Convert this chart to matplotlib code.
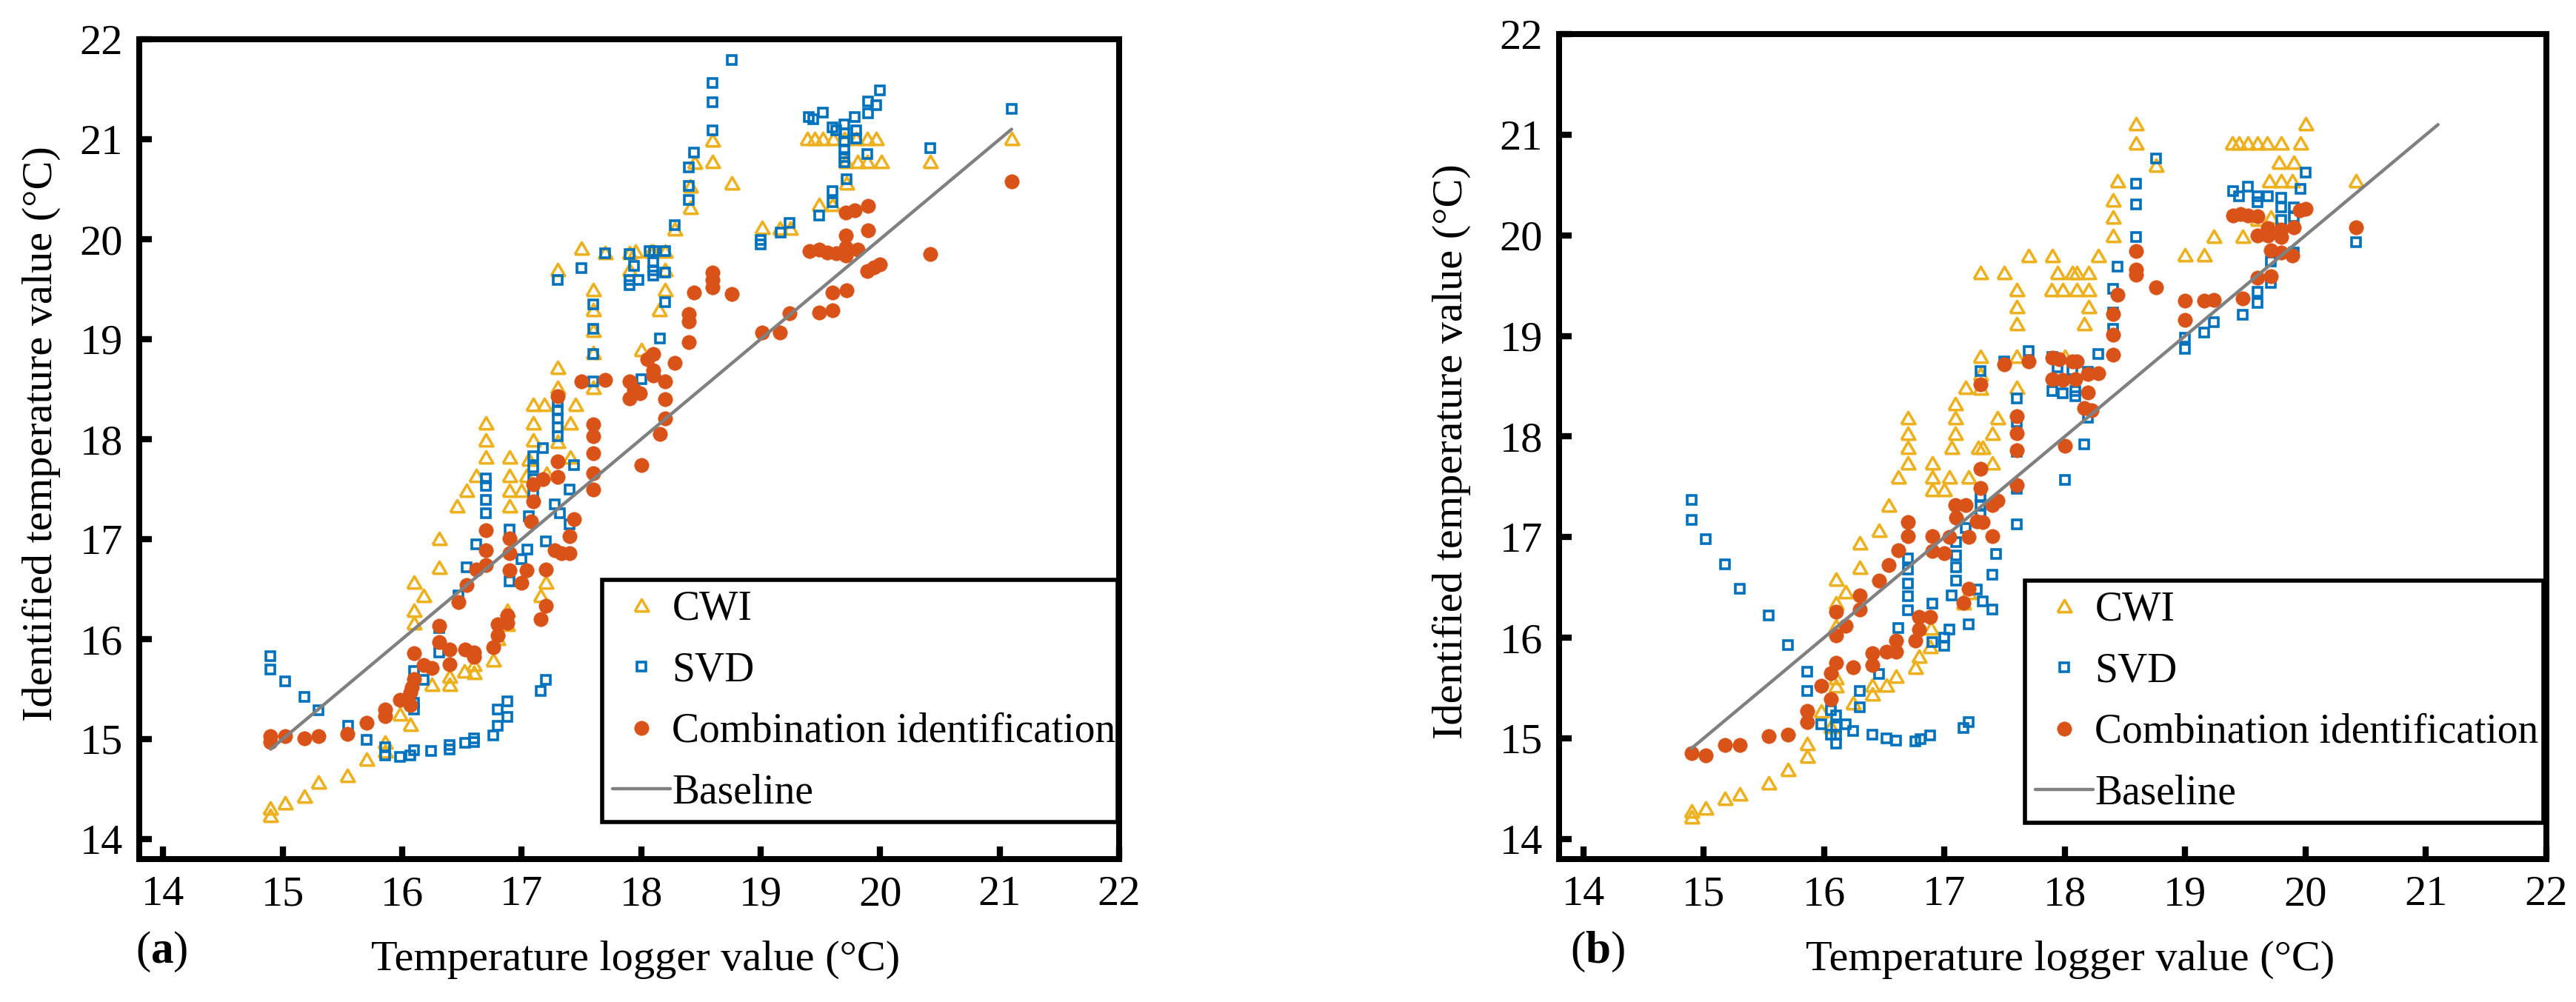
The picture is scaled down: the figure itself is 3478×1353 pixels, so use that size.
import matplotlib
matplotlib.use("Agg")
import matplotlib.pyplot as plt

plt.rcParams['font.family'] = ['Liberation Serif', 'DejaVu Serif']
plt.rcParams['mathtext.fontset'] = 'custom'
plt.rcParams['mathtext.rm'] = 'Liberation Serif'
plt.rcParams['mathtext.bf'] = 'Liberation Serif:bold'

# ---- panel (a) ----
cwi_a = [(16.31,17.01),(16.31,16.72),(16.10,16.57),(16.18,16.44),(16.10,16.29),(16.10,16.16),(17.20,16.57),
         (17.16,16.44),(16.88,16.29),(16.88,16.15),(16.80,16.01),(16.76,15.79),(16.60,15.75),(16.52,15.68),
         (16.60,15.67),(16.40,15.63),(16.40,15.55),(16.25,15.55),(16.07,15.15),(15.98,15.25),(15.86,14.97),
         (15.86,14.88),(15.70,14.80),(15.54,14.64),(15.30,14.57),(15.18,14.43),(15.02,14.36),(14.90,14.31),
         (14.90,14.24),
         (17.50,19.91),(17.30,19.70),(17.70,19.87),(17.90,19.87),(17.95,19.88),(18.08,19.88),(18.10,19.88),
         (18.20,19.88),(17.90,19.70),(18.20,19.70),(18.20,19.50),(18.15,19.30),(18.00,18.90),(17.60,19.50),
         (17.60,19.30),(17.60,19.09),(17.60,18.87),(17.60,18.52),(17.30,18.72),(17.30,18.52),(17.10,18.35),
         (17.19,18.35),(17.45,18.35),(17.10,18.16),(17.41,18.16),(17.10,17.99),(17.30,17.98),(16.70,18.16),
         (16.70,17.99),(16.70,17.82),(16.90,17.82),(17.06,17.80),(17.41,17.82),(16.62,17.64),(16.90,17.64),
         (17.04,17.64),(17.21,17.66),(16.54,17.49),(16.90,17.49),(17.00,17.49),(16.46,17.33),(16.90,17.33),
         (18.28,20.10),
         (18.60,20.99),(18.45,20.77),(18.60,20.78),(18.76,20.56),(18.41,20.53),(18.41,20.32),(19.01,20.12),
         (19.16,20.11),(19.25,20.11),(19.39,21.01),(19.45,21.01),(19.52,21.01),(19.61,21.01),(19.70,21.01),
         (19.80,21.01),(19.89,21.01),(19.97,21.01),(19.71,20.78),(19.81,20.78),(19.89,20.78),(20.01,20.78),
         (19.49,20.35),(19.60,20.35),(19.72,20.56),(20.42,20.78),(21.10,21.01)]

svd_a = [(14.90,15.83),(14.90,15.70),(15.02,15.58),(15.18,15.42),(15.30,15.29),(15.55,15.13),(15.70,14.99),
         (15.86,14.92),(15.86,14.84),(15.98,14.82),(16.07,14.84),(16.10,14.89),(16.24,14.88),(16.40,14.94),
         (16.40,14.90),(16.53,14.96),(16.60,15.01),(16.60,14.97),(16.76,15.04),(16.80,15.13),(16.80,15.30),
         (16.88,15.38),(16.88,15.22),(17.16,15.48),(17.20,15.59),(16.10,15.68),(16.18,15.59),(16.10,15.30),
         (16.10,15.36),(16.31,15.87),(16.31,16.11),(16.47,16.44),(16.54,16.72),(16.62,16.95),(16.90,17.10),
         (16.90,16.58),(17.20,16.98),(17.40,17.15),(17.00,16.80),(17.05,16.90),
         (17.30,19.59),(17.50,19.71),(17.70,19.86),(17.90,19.85),(17.94,19.73),(17.90,19.59),(17.90,19.54),
         (17.98,19.59),(18.07,19.88),(18.11,19.88),(18.20,19.88),(18.10,19.77),(18.10,19.69),(18.10,19.64),
         (18.20,19.67),(18.20,19.37),(18.16,19.01),(18.00,18.60),(18.28,20.14),(17.60,19.35),(17.60,19.10),
         (17.60,18.85),(17.60,18.58),(17.30,18.37),(17.30,18.29),(17.30,18.21),(17.30,18.12),(17.30,18.03),
         (17.18,17.91),(17.10,17.83),(17.10,17.72),(17.10,17.60),(17.10,17.46),(17.44,17.74),(17.40,17.50),
         (17.28,17.35),(17.32,17.26),(16.70,17.61),(16.70,17.53),(16.70,17.39),(16.70,17.26),(17.06,17.23),
         (18.76,21.79),(18.60,21.56),(18.60,21.37),(18.60,21.09),(18.44,20.87),(18.40,20.72),(18.40,20.53),
         (18.40,20.39),(19.00,19.99),(19.00,19.95),(19.17,20.07),(19.24,20.16),(19.40,21.22),(19.44,21.20),
         (19.52,21.27),(19.60,21.12),(19.70,21.15),(19.79,21.22),(19.90,21.38),(19.97,21.34),(19.90,21.26),
         (20.00,21.49),(19.70,21.06),(19.70,20.98),(19.70,20.90),(19.70,20.82),(19.70,20.77),(19.80,21.09),
         (19.80,21.01),(19.63,21.09),(19.89,20.85),(19.72,20.60),(19.60,20.48),(19.60,20.37),(19.49,20.24),
         (20.42,20.91),(21.10,21.30)]

comb_a = [(14.90,15.03),(14.90,14.97),(15.02,15.03),(15.18,15.01),(15.30,15.03),(15.54,15.05),(15.70,15.16),
          (15.86,15.30),(15.86,15.23),(15.98,15.39),(16.07,15.34),(16.07,15.47),(16.08,15.52),(16.10,15.60),
          (16.10,15.86),(16.18,15.74),(16.25,15.71),(16.31,16.13),(16.31,15.97),(16.40,15.90),(16.40,15.75),
          (16.53,15.90),(16.60,15.87),(16.60,15.82),(16.76,15.92),(16.80,16.04),(16.80,16.15),(16.88,16.16),
          (16.88,16.24),(16.47,16.37),(16.54,16.54),(16.62,16.70),(16.70,16.74),(16.70,16.89),(16.70,17.09),
          (16.90,16.69),(16.90,17.01),(16.90,16.86),(17.00,16.56),(17.04,16.69),(17.20,16.70),(17.20,16.33),
          (17.16,16.20),(17.08,17.18),(17.28,16.89),(17.33,16.86),(17.40,16.86),(17.40,17.03),(17.44,17.20),
          (17.50,18.58),(17.70,18.59),(17.90,18.58),(17.94,18.50),(17.99,18.46),(17.90,18.41),(18.10,18.85),
          (18.05,18.80),(18.10,18.69),(18.10,18.64),(18.20,18.58),(18.20,18.40),(18.20,18.21),(18.16,18.05),
          (18.00,17.74),(18.28,18.76),(17.60,18.15),(17.60,18.03),(17.60,17.86),(17.60,17.66),(17.60,17.50),
          (17.30,18.43),(17.30,17.78),(17.30,17.62),(17.18,17.60),(17.10,17.55),(17.10,17.38),
          (18.60,19.67),(18.60,19.59),(18.60,19.52),(18.44,19.47),(18.76,19.45),(18.40,19.25),(18.40,19.18),
          (18.40,18.97),(19.01,19.07),(19.16,19.07),(19.24,19.26),(19.49,19.27),(19.60,19.29),(19.60,19.47),
          (19.72,19.49),(19.89,19.68),(19.95,19.72),(20.00,19.75),(19.41,19.88),(19.49,19.90),(19.56,19.87),
          (19.63,19.86),(19.71,19.84),(19.71,19.92),(19.71,20.04),(19.81,19.90),(19.71,20.27),(19.79,20.29),
          (19.90,20.33),(19.90,20.09),(20.42,19.85),(21.10,20.58)]

# ---- panel (b) ----
cwi_b = [(14.90,14.28),(14.90,14.22),(15.02,14.31),(15.18,14.40),(15.30,14.45),(15.54,14.56),(15.70,14.69),
         (15.86,14.82),(15.86,14.95),(15.98,15.27),(16.06,15.12),(16.10,15.60),(16.10,15.52),(16.24,15.35),
         (16.40,15.44),(16.40,15.53),(16.52,15.53),(16.60,15.62),(16.76,15.71),(16.79,15.82),(16.88,15.91),
         (16.89,16.10),(16.10,16.12),(16.10,16.35),(16.18,16.46),(16.10,16.58),(16.30,16.70),(16.30,16.94),
         (16.46,17.07),(17.16,16.35),(17.20,16.45),
         (17.70,19.80),(17.90,19.80),(18.28,19.80),(17.30,19.63),(17.50,19.63),(17.94,19.63),(18.06,19.63),
         (18.10,19.63),(18.20,19.63),(17.60,19.46),(17.60,19.29),(17.60,19.12),(17.89,19.46),(17.98,19.46),
         (18.10,19.46),(18.20,19.46),(18.20,19.29),(18.16,19.12),(17.30,18.80),(17.60,18.80),(18.00,18.80),
         (17.30,18.62),(17.18,18.49),(17.30,18.48),(17.60,18.49),(17.09,18.33),(17.09,18.19),(17.09,18.03),
         (17.06,17.89),(17.44,18.19),(17.40,18.03),(17.28,17.89),(17.32,17.89),(17.40,17.74),(16.70,18.19),
         (16.70,18.03),(16.70,17.89),(16.70,17.74),(16.62,17.60),(16.90,17.74),(16.90,17.60),(17.04,17.60),
         (17.20,17.60),(16.90,17.47),(17.00,17.47),(16.54,17.32),
         (18.59,21.11),(18.59,20.92),(18.76,20.70),(18.44,20.54),(18.40,20.35),(18.40,20.18),(18.40,20.00),
         (19.00,19.81),(19.16,19.81),(19.24,19.99),(19.48,19.99),(19.39,20.92),(19.45,20.92),(19.52,20.92),
         (19.60,20.92),(19.68,20.92),(19.80,20.92),(19.96,20.92),(20.00,21.11),(19.78,20.73),(19.90,20.73),
         (19.70,20.54),(19.80,20.54),(19.89,20.54),(19.71,20.18),(19.60,20.16),(20.42,20.54)]

svd_b = [(14.90,17.37),(14.90,17.17),(15.02,16.98),(15.18,16.73),(15.30,16.49),(15.54,16.22),(15.70,15.93),
         (15.86,15.66),(15.86,15.47),(15.98,15.14),(16.06,15.28),(16.10,15.23),(16.10,15.12),(16.18,15.14),
         (16.06,15.04),(16.10,15.04),(16.10,14.95),(16.24,15.07),(16.40,15.04),(16.52,15.00),(16.60,14.98),
         (16.76,14.97),(16.80,14.99),(16.88,15.03),(17.16,15.10),(17.20,15.16),(16.30,15.47),(16.30,15.31),
         (16.46,15.64),(16.62,16.10),(16.70,16.27),(16.70,16.41),(16.70,16.54),(16.70,16.68),(16.70,16.79),
         (16.90,16.34),(16.90,15.96),(17.00,15.92),(17.00,16.00),(17.04,16.08),(17.10,16.57),(17.10,16.70),
         (17.10,16.82),(17.10,16.95),(17.06,16.42),(17.18,17.09),(17.27,16.48),(17.32,16.36),(17.40,16.28),
         (17.20,16.13),(17.40,16.63),(17.43,16.83),(17.60,17.13),
         (18.28,18.82),(17.70,18.85),(17.50,18.75),(17.30,18.65),(17.90,18.79),(17.94,18.69),(18.06,18.66),
         (18.19,18.64),(17.90,18.45),(17.98,18.43),(18.09,18.45),(18.09,18.40),(18.19,18.19),(18.16,17.92),
         (18.00,17.57),(17.60,18.38),(17.60,18.14),(17.60,17.85),(17.60,17.48),(17.30,17.40),(17.30,17.32),
         (17.30,17.22),
         (18.76,20.76),(18.59,20.51),(18.59,20.31),(18.59,19.98),(18.44,19.69),(18.40,19.47),(18.40,19.23),
         (18.40,19.07),(19.00,18.98),(19.00,18.87),(19.16,19.03),(19.24,19.14),(19.48,19.21),(19.60,19.44),
         (19.60,19.33),(19.71,19.53),(19.71,19.74),(19.40,20.44),(19.45,20.39),(19.52,20.48),(19.60,20.39),
         (19.60,20.33),(19.69,20.39),(19.80,20.37),(19.80,20.28),(19.90,20.28),(19.90,20.18),(19.80,20.15),
         (19.96,20.46),(20.00,20.62),(19.80,19.99),(19.90,19.83),(20.42,19.93)]

comb_b = [(14.90,14.85),(15.02,14.83),(15.18,14.93),(15.30,14.93),(15.54,15.02),(15.70,15.04),(15.86,15.27),
          (15.86,15.16),(15.98,15.52),(16.06,15.39),(16.06,15.65),(16.10,15.75),(16.24,15.71),(16.40,15.85),
          (16.40,15.73),(16.52,15.86),(16.60,15.86),(16.60,15.97),(16.76,15.97),(16.79,16.08),(16.79,16.21),
          (16.88,16.21),(16.10,16.02),(16.18,16.12),(16.10,16.26),(16.30,16.28),(16.30,16.42),(16.46,16.57),
          (16.54,16.72),(16.62,16.87),(16.70,17.01),(16.70,17.15),(16.90,17.01),(16.90,16.86),(17.00,16.84),
          (17.04,17.00),(17.10,17.19),(17.20,17.00),(17.20,16.49),(17.16,16.35),(17.40,17.01),(17.27,17.16),
          (17.32,17.15),
          (17.50,18.72),(17.70,18.75),(17.90,18.78),(17.95,18.77),(18.06,18.75),(18.10,18.75),(17.90,18.57),
          (17.98,18.56),(18.09,18.57),(18.19,18.62),(18.28,18.63),(18.19,18.44),(18.16,18.28),(18.22,18.26),
          (18.00,17.91),(17.30,18.52),(17.60,18.20),(17.60,18.03),(17.60,17.86),(17.60,17.52),(17.30,17.68),
          (17.30,17.49),(17.09,17.32),(17.18,17.32),(17.40,17.32),(17.44,17.36),
          (18.59,19.84),(18.59,19.66),(18.59,19.61),(18.76,19.48),(18.44,19.41),(18.40,19.22),(18.40,19.01),
          (18.40,18.81),(19.00,19.35),(19.00,19.16),(19.16,19.35),(19.24,19.36),(19.48,19.37),(19.60,19.58),
          (19.71,19.59),(19.40,20.20),(19.46,20.21),(19.52,20.20),(19.60,20.19),(19.60,20.00),(19.69,20.07),
          (19.69,20.00),(19.80,20.06),(19.80,19.98),(19.90,20.08),(19.71,19.85),(19.80,19.83),(19.89,19.80),
          (19.95,20.25),(20.00,20.26),(20.42,20.08)]

baseline_x = [14.9, 21.1]
baseline_y = [14.9, 21.1]
ticks = [14, 15, 16, 17, 18, 19, 20, 21, 22]
labels = ["CWI", "SVD", "Combination identification", "Baseline"]

C_CWI = "#EDB120"
C_SVD = "#0072BD"
C_COMB = "#D95319"
C_BASE = "#808080"
tri = [(-1, -0.866), (1, -0.866), (0, 0.866), (-1, -0.866)]

W, H = 3478, 1353
fig = plt.figure(figsize=(W / 200, H / 200), dpi=200)

def px_rect(l, t, r, b):
    return [l / W, 1 - b / H, (r - l) / W, (b - t) / H]

def draw_panel(rect, cwi, svd, comb, leg_box, tag, tag_xy, ylab_xy, xlab_xy):
    ax = fig.add_axes(px_rect(*rect))
    ax.plot([p[0] for p in cwi], [p[1] for p in cwi], linestyle='none', marker=tri, ms=6.8,
            mfc='none', mec=C_CWI, mew=1.3, label=labels[0])
    ax.plot([p[0] for p in svd], [p[1] for p in svd], linestyle='none', marker='s', ms=4.5,
            mfc='none', mec=C_SVD, mew=1.3, label=labels[1])
    ax.plot([p[0] for p in comb], [p[1] for p in comb], linestyle='none', marker='o', ms=7.0,
            mfc=C_COMB, mec=C_COMB, mew=0.2, label=labels[2])
    ax.plot(baseline_x, baseline_y, color=C_BASE, lw=1.6, solid_capstyle='round', label=labels[3])
    ax.set_xlim(13.8, 22)
    ax.set_ylim(13.8, 22)
    ax.set_xticks(ticks)
    ax.set_yticks(ticks)
    ax.tick_params(direction='in', length=6, width=3.0, labelsize=21, pad=8,
                   top=False, right=False)
    for s in ax.spines.values():
        s.set_linewidth(2.9)
    # legend box given in pixels (left, top, right, bottom)
    aw = rect[2] - rect[0]
    ah = rect[3] - rect[1]
    l0 = (leg_box[0] - rect[0]) / aw
    w0 = (leg_box[2] - leg_box[0]) / aw
    b0 = 1 - (leg_box[3] - rect[1]) / ah
    h0 = (leg_box[3] - leg_box[1]) / ah
    leg = ax.legend(loc='upper left', bbox_to_anchor=(l0, b0, w0, h0), mode='expand',
                    fontsize=20, frameon=True, fancybox=False, borderpad=0.25,
                    labelspacing=0.55, handlelength=1.4, handletextpad=0.05, borderaxespad=0)
    fr = leg.get_frame()
    fr.set_edgecolor('black')
    fr.set_linewidth(2.0)
    fr.set_alpha(1)
    fig.text(tag_xy[0] / W, 1 - tag_xy[1] / H, r'($\mathbf{%s}$)' % tag, fontsize=22,
             ha='center', va='center')
    fig.text(ylab_xy[0] / W, 1 - ylab_xy[1] / H, 'Identified temperature value (°C)',
             fontsize=21, rotation=90, ha='center', va='center')
    fig.text(xlab_xy[0] / W, 1 - xlab_xy[1] / H, 'Temperature logger value (°C)',
             fontsize=21, ha='center', va='baseline')
    return ax

draw_panel((188, 53, 1511, 1160), cwi_a, svd_a, comb_a, (813, 783, 1509, 1106), 'a',
           (218, 1285), (56, 586), (858, 1310))
draw_panel((2105, 46, 3438, 1160), cwi_b, svd_b, comb_b, (2734, 784, 3434, 1110), 'b',
           (2157, 1285), (1960, 610), (2795, 1310))

fig.savefig("out.png", dpi=200)
